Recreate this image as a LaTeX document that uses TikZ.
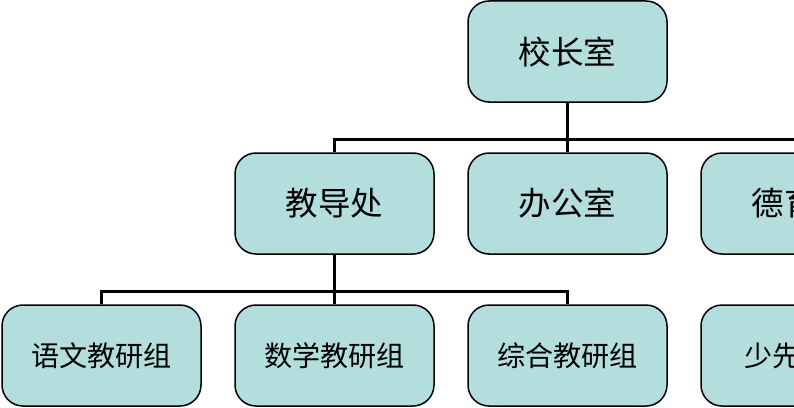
\documentclass[tikz,border=0pt]{standalone}
\usepackage{fontspec}
\newfontfamily\cjk{Noto Sans CJK SC}
\usetikzlibrary{calc}
\definecolor{boxfill}{RGB}{180,222,222}
\tikzset{
	unit/.style={draw=black, line width=0.3mm, fill=boxfill, rounded corners=0.42cm, minimum width=3.98cm, minimum height=2.02cm, inner sep=0pt, font=\cjk\fontsize{18.5}{20}\selectfont},
	group/.style={unit, font=\cjk\fontsize{16}{18}\selectfont},
	link/.style={line width=0.6mm, color=black}
}
\begin{document}
\begin{tikzpicture}
			%%%%% START %%%%%
			
			\useasboundingbox (0, 0) rectangle (15.88, -8.14);
			
			\node[unit] (xz) at (11.35, -1.03) {校长室};
			
			\node[unit] (jd) at (6.69, -4.07) {教导处};
			\node[unit] (bg) at (11.35, -4.07) {办公室};
			\node[unit] (dy) at (16.01, -4.07) {德育\phantom{处}};
			
			\node[group] (yw) at (2.03, -7.11) {语文教研组};
			\node[group] (sx) at (6.69, -7.11) {数学教研组};
			\node[group] (zh) at (11.35, -7.11) {综合教研组};
			\node[group] (sxd) at (16.01, -7.11) {少先\phantom{队部}};
			
			\draw[link] (xz.south) -- (bg.north);
			\draw[link] (jd.north) -- ++(0, 0.26) -| (dy.north);
			
			\draw[link] (jd.south) -- (sx.north);
			\draw[link] (yw.north) -- ++(0, 0.26) -| (zh.north);
			
			%%%%% END %%%%%
\end{tikzpicture}
\end{document}
